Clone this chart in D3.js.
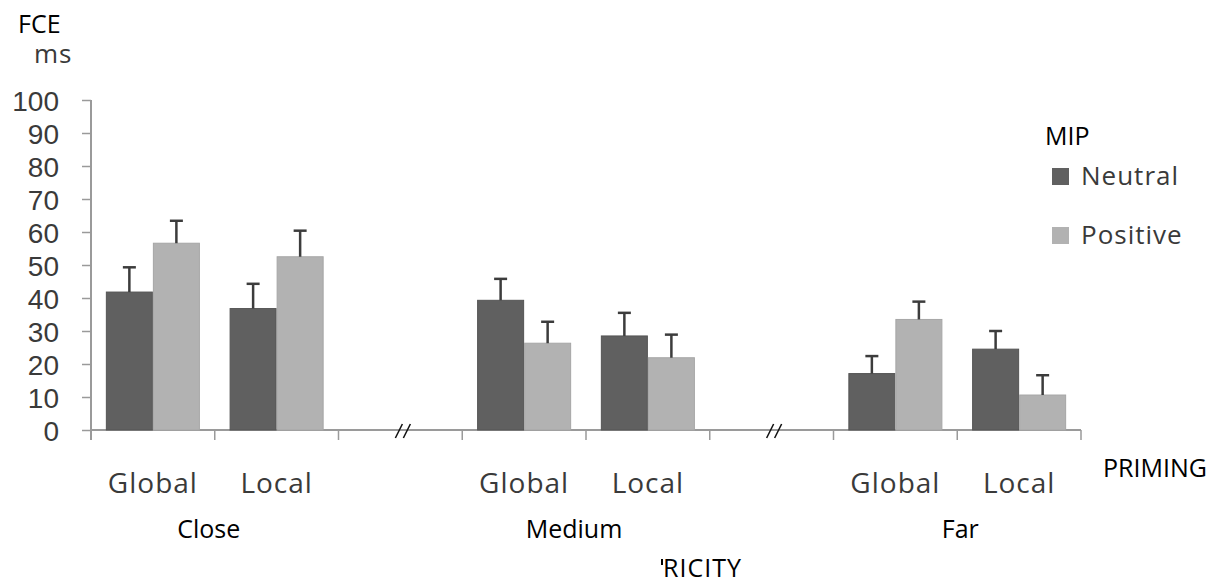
<!DOCTYPE html>
<html>
<head>
<meta charset="utf-8">
<script src="https://cdn.jsdelivr.net/npm/d3@7"></script>
<style>
  html, body { margin: 0; padding: 0; background: #fff; }
  svg { display: block; }
</style>
</head>
<body>
<svg id="chart" width="1221" height="585"></svg>
<script>
// ---- data ----
const eccentricities = ["Close", "Medium", "Far"];
const primings = ["Global", "Local"];
const seriesNames = ["Neutral", "Positive"];
const neutralValues = [41.8, 36.8, 39.3, 28.5, 17.1, 24.5];
const positiveValues = [56.6, 52.5, 26.3, 21.9, 33.5, 10.6];
const neutralErrors = [7.5, 7.5, 6.5, 7.0, 5.3, 5.5];
const positiveErrors = [6.8, 7.9, 6.5, 7.0, 5.4, 6.0];
const yTicks = [0, 10, 20, 30, 40, 50, 60, 70, 80, 90, 100];

// ---- build rows ----
const rows = [];
eccentricities.forEach((e, gi) => {
  primings.forEach((p, pi) => {
    const i = gi * primings.length + pi;
    rows.push({
      ecc: e, priming: p, key: e + "|" + p,
      values: [
        { series: "Neutral", v: neutralValues[i], err: neutralErrors[i] },
        { series: "Positive", v: positiveValues[i], err: positiveErrors[i] }
      ]
    });
  });
});
// slot list with break gaps between eccentricity groups
const slots = [];
eccentricities.forEach((e, gi) => {
  primings.forEach(p => slots.push(e + "|" + p));
  if (gi < eccentricities.length - 1) slots.push("gap" + gi);
});

const svg = d3.select("#chart");
const colors = { Neutral: "#606060", Positive: "#b2b2b2" };
const strokes = { Neutral: "#555555", Positive: "#a6a6a6" };

const x = d3.scaleBand().domain(slots).range([91, 1081]).padding(0);
const xInner = d3.scaleBand().domain(seriesNames).range([0, x.bandwidth()]).paddingInner(0).paddingOuter(0.316);
const y = d3.scaleLinear().domain([0, 100]).range([430, 100]);

const axisColor = "#9a9a9a";
const greyFont = "'Open Sans', sans-serif";
const blackFont = "'Open Sans', sans-serif";

// Y axis
const yAxisG = svg.append("g").attr("transform", "translate(91,0)")
  .call(d3.axisLeft(y).tickValues(yTicks).tickSize(9).tickPadding(23).tickSizeOuter(0));
yAxisG.select(".domain").attr("stroke", axisColor).attr("stroke-width", 2)
  .attr("d", `M0,${y(100)}V${y(0) + 10}`);
yAxisG.selectAll(".tick line").attr("stroke", axisColor).attr("stroke-width", 1.5);
yAxisG.selectAll(".tick text")
  .attr("fill", "#3a3a3a")
  .style("font-family", "'Liberation Sans', Arial, sans-serif")
  .style("font-size", "28px")
  .attr("dy", "0.36em");

// X axis
const xAxisG = svg.append("g").attr("transform", `translate(0,${y(0)})`);
xAxisG.append("line").attr("x1", 91).attr("x2", x.range()[1])
  .attr("stroke", axisColor).attr("stroke-width", 2);
const boundaries = slots.map(s => x(s)).concat([x.range()[1]]);
xAxisG.selectAll("line.xt").data(boundaries).join("line").attr("class", "xt")
  .attr("x1", d => d).attr("x2", d => d).attr("y1", 0).attr("y2", 10)
  .attr("stroke", axisColor).attr("stroke-width", 1.5);

// break marks
const gaps = slots.filter(s => s.startsWith("gap"));
gaps.forEach(g => {
  const cx = x(g) + x.bandwidth() / 2 + 3;
  [-4, 4].forEach(off => {
    xAxisG.append("line")
      .attr("x1", cx + off - 4).attr("y1", 8)
      .attr("x2", cx + off + 3).attr("y2", -6)
      .attr("stroke", "#111").attr("stroke-width", 1.6);
  });
});

// bars
const groups = svg.append("g").selectAll("g.grp").data(rows).join("g")
  .attr("class", "grp").attr("transform", d => `translate(${x(d.key)},0)`);
groups.selectAll("rect").data(d => d.values).join("rect")
  .attr("x", d => xInner(d.series) + 0.5)
  .attr("y", d => y(d.v))
  .attr("width", xInner.bandwidth() - 1)
  .attr("height", d => y(0) - y(d.v))
  .attr("fill", d => colors[d.series])
  .attr("stroke", d => strokes[d.series]).attr("stroke-width", 1);

// error bars
const eb = groups.selectAll("g.eb").data(d => d.values).join("g").attr("class", "eb");
eb.append("line")
  .attr("x1", d => xInner(d.series) + xInner.bandwidth() / 2)
  .attr("x2", d => xInner(d.series) + xInner.bandwidth() / 2)
  .attr("y1", d => y(d.v)).attr("y2", d => y(d.v + d.err))
  .attr("stroke", "#3c3c3c").attr("stroke-width", 2.5);
eb.append("line")
  .attr("x1", d => xInner(d.series) + xInner.bandwidth() / 2 - 6.5)
  .attr("x2", d => xInner(d.series) + xInner.bandwidth() / 2 + 6.5)
  .attr("y1", d => y(d.v + d.err)).attr("y2", d => y(d.v + d.err))
  .attr("stroke", "#3c3c3c").attr("stroke-width", 2.5);

// priming tick labels
svg.append("g").selectAll("text").data(rows).join("text")
  .attr("x", d => x(d.key) + x.bandwidth() / 2)
  .attr("y", 493)
  .attr("text-anchor", "middle")
  .attr("fill", "#3a3a3a")
  .style("font-family", greyFont)
  .style("font-size", "28px")
  .style("letter-spacing", "1px")
  .text(d => d.priming);

// eccentricity labels
const nudge = { Close: -6, Medium: -12, Far: 3 };
svg.append("g").selectAll("text").data(eccentricities).join("text")
  .attr("x", e => {
    const a = x(e + "|" + primings[0]);
    const b = x(e + "|" + primings[primings.length - 1]) + x.bandwidth();
    return (a + b) / 2 + nudge[e];
  })
  .attr("y", 538)
  .attr("text-anchor", "middle")
  .attr("fill", "#000")
  .style("font-family", blackFont)
  .style("font-size", "25px")
  .text(e => e);

// PRIMING label
svg.append("text").attr("x", 1103).attr("y", 477)
  .attr("fill", "#000").style("font-family", blackFont).style("font-size", "25px")
  .text("PRIMING");

// partly hidden eccentricity title (only its tail is visible in the original)
svg.append("line").attr("x1", 662).attr("x2", 662).attr("y1", 559).attr("y2", 565)
  .attr("stroke", "#000").attr("stroke-width", 2);
svg.append("text").attr("x", 742).attr("y", 577).attr("text-anchor", "end")
  .attr("fill", "#000").style("font-family", blackFont).style("font-size", "25px")
  .style("letter-spacing", "1px")
  .text("RICITY");

// Y title
svg.append("text").attr("x", 18).attr("y", 33)
  .attr("fill", "#000").style("font-family", blackFont).style("font-size", "25px")
  .text("FCE");
svg.append("text").attr("x", 34).attr("y", 63)
  .attr("fill", "#3a3a3a").style("font-family", greyFont).style("font-size", "26px")
  .style("letter-spacing", "1px")
  .text("ms");

// Legend
svg.append("text").attr("x", 1045).attr("y", 145)
  .attr("fill", "#000").style("font-family", blackFont).style("font-size", "25px")
  .text("MIP");
const leg = svg.append("g").selectAll("g").data(seriesNames).join("g")
  .attr("transform", (d, i) => `translate(1052,${168 + i * 59})`);
leg.append("rect").attr("width", 17).attr("height", 17)
  .attr("fill", d => colors[d]);
leg.append("text").attr("x", 29).attr("y", 17)
  .attr("fill", "#3a3a3a").style("font-family", greyFont)
  .style("font-size", "26px").style("letter-spacing", "1px")
  .text(d => d);
</script>
</body>
</html>
